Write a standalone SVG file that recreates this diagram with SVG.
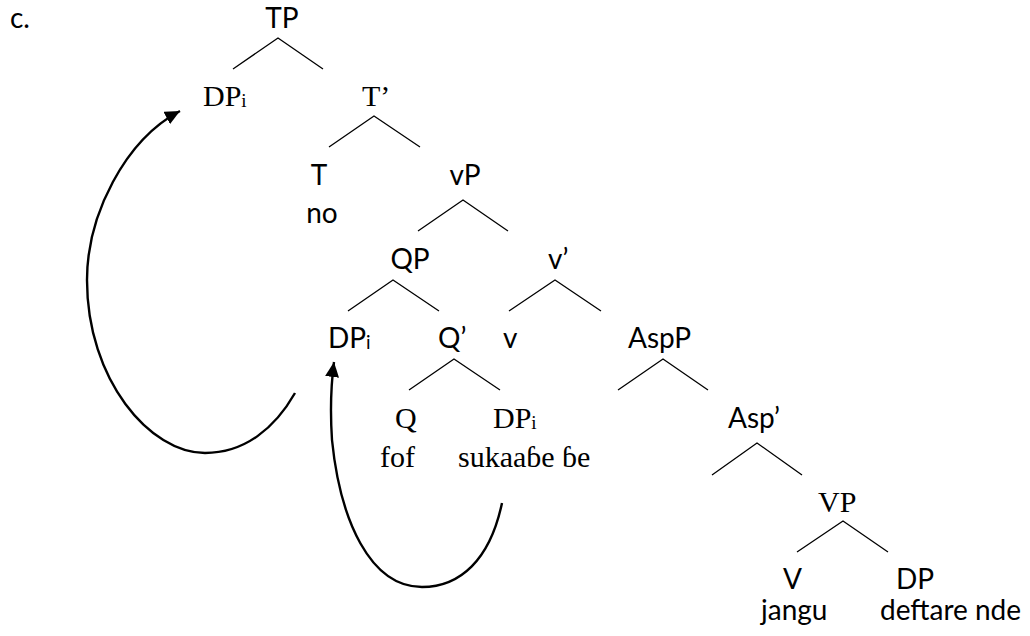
<svg xmlns="http://www.w3.org/2000/svg" width="1030" height="636" viewBox="0 0 1030 636">
<style>
.c{font-family:Lato,"Open Sans","Liberation Sans",sans-serif;font-size:28px;fill:#000}
.t{font-family:"Liberation Serif","Times New Roman",serif;font-size:30px;fill:#000}
.sub{font-size:19px}
.br{fill:none;stroke:#000;stroke-width:1.3}
.mv{fill:none;stroke:#000;stroke-width:2.4}
</style>
<defs>
<marker id="ah" markerUnits="userSpaceOnUse" markerWidth="16" markerHeight="14" refX="15" refY="7" orient="auto">
<path d="M0,0 L15,7 L0,14 z" fill="#000"/>
</marker>
</defs>
<rect width="1030" height="636" fill="#fff"/>
<text class="c" x="10" y="28">c.</text>
<g id="TP"><text class="c" x="282" y="28" text-anchor="middle">TP</text></g>
<g id="DPi-spec"><text class="t" x="203" y="106">DP<tspan class="sub" dy="1">i</tspan></text></g>
<g id="Tbar"><text class="t" x="362" y="106">T’</text></g>
<g id="T"><text class="c" x="319" y="185" text-anchor="middle">T</text><text class="c" x="322" y="223" text-anchor="middle">no</text></g>
<g id="vP"><text class="c" x="465" y="185" text-anchor="middle">vP</text></g>
<g id="QP"><text class="c" x="410" y="269" text-anchor="middle">QP</text></g>
<g id="vbar"><text class="c" x="548" y="269">v’</text></g>
<g id="DPi-QP"><text class="c" x="328" y="348">DP<tspan class="sub" dy="1">i</tspan></text></g>
<g id="Qbar"><text class="c" x="438" y="348">Q’</text></g>
<g id="v"><text class="c" x="503" y="348">v</text></g>
<g id="AspP"><text class="c" x="628" y="348">AspP</text></g>
<g id="Q"><text class="t" x="395" y="428">Q</text><text class="t" x="380" y="467">fof</text></g>
<g id="DPi-base"><text class="t" x="493" y="428">DP<tspan class="sub" dy="1">i</tspan></text><text class="t" x="458" y="467">sukaaɓe ɓe</text></g>
<g id="Aspbar"><text class="c" x="728" y="428">Asp’</text></g>
<g id="VP"><text class="t" x="818" y="512">VP</text></g>
<g id="V"><text class="c" x="783" y="589">V</text><text class="c" x="761" y="620">jangu</text></g>
<g id="DP"><text class="c" x="896" y="589">DP</text><text class="c" x="880" y="620">deftare nde</text></g>
<g id="connectors">
<polyline class="br" points="233,69 278,38 323,69"/>
<polyline class="br" points="329,147 374,116 420,147"/>
<polyline class="br" points="418,231 463,200 508,231"/>
<polyline class="br" points="348,311 393,280 439,311"/>
<polyline class="br" points="509,311 555,280 601,311"/>
<polyline class="br" points="409,390 454,359 500,390"/>
<polyline class="br" points="618,390 663,359 708,390"/>
<polyline class="br" points="712,475 757,443 802,475"/>
<polyline class="br" points="797,552 843,521 888,552"/>
<path class="mv" marker-end="url(#ah)" d="M295,393 C275,428 245,453 205,453 C150,453 87,380 87,280 C87,215 125,140 180,111"/>
<path class="mv" marker-end="url(#ah)" d="M502,503 C490,560 460,587 422,587 C370,587 340,520 332,440 C330,410 331,385 334,362"/>
</g>
</svg>
